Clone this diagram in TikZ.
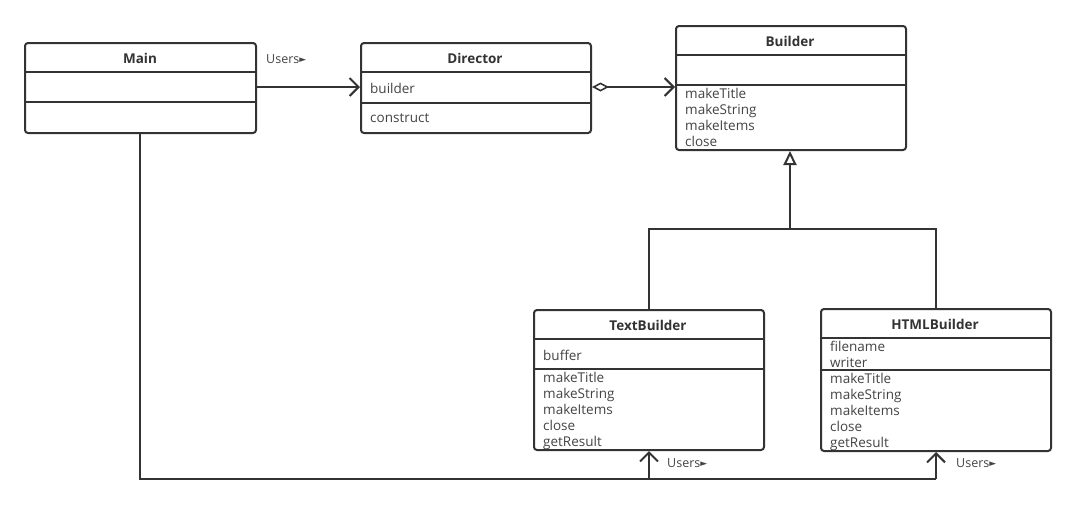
\documentclass[tikz,border=0pt]{standalone}
\usepackage{fontspec}
\setmainfont{Open Sans}
\newfontfamily\symfont{DejaVu Sans}
\usetikzlibrary{arrows.meta}
\definecolor{ln}{HTML}{333333}
\definecolor{tx}{HTML}{444444}
\tikzset{
  cls/.style={draw=ln, line width=2pt, rounded corners=3pt, fill=white, inner sep=0pt, anchor=north west},
  ttl/.style={font=\fontsize{13.5}{15}\selectfont\bfseries, text=ln, inner sep=0pt},
  mem/.style={font=\fontsize{13.5}{16}\selectfont, text=tx, align=left, anchor=north west, inner sep=0pt},
  lab/.style={font=\fontsize{12.5}{14}\selectfont, text=tx, inner sep=0pt},
  conn/.style={draw=ln, line width=2pt},
  opena/.style={-{Straight Barb[length=9pt,width=18pt,line width=2pt]}},
  aggr/.style={{Diamond[open,length=17pt,width=9pt,line width=1.6pt]}-{Straight Barb[length=9pt,width=18pt,line width=2pt]}},
  inh/.style={-{Triangle[open,length=14pt,width=13pt,line width=2pt]}},
}
\newcommand{\usersmark}{Users{\symfont\fontsize{9}{10}\selectfont\raisebox{0.5pt}{►}}}
\begin{document}
\begin{tikzpicture}[x=1pt,y=-1pt]
\useasboundingbox (0,0) rectangle (1082,507);
% Main
\node[cls, minimum width=231pt, minimum height=90pt] (main) at (24,42) {};
\draw[conn] (24,72) -- (255,72);
\draw[conn] (24,102) -- (255,102);
\node[ttl] (mainT) at (140,58) {Main};
% Director
\node[cls, minimum width=230pt, minimum height=90pt] (dir) at (360,42) {};
\draw[conn] (360,72) -- (590,72);
\draw[conn] (360,103) -- (590,103);
\node[ttl] (dirT) at (475,58) {Director};
\node[mem, anchor=west] (dirA) at (370,88) {builder};
\node[mem, anchor=west] (dirM) at (370,118) {construct};
% Builder
\node[cls, minimum width=230pt, minimum height=124pt] (bld) at (675,25) {};
\draw[conn] (675,55) -- (905,55);
\draw[conn] (675,85) -- (905,85);
\node[ttl] (bldT) at (790,41) {Builder};
\node[mem] (bldM) at (685,88) {makeTitle\\makeString\\makeItems\\close};
% TextBuilder
\node[cls, minimum width=230pt, minimum height=140pt] (tb) at (533,309) {};
\draw[conn] (533,339) -- (763,339);
\draw[conn] (533,369) -- (763,369);
\node[ttl] (tbT) at (648,325) {TextBuilder};
\node[mem, anchor=west] (tbA) at (543,355) {buffer};
\node[mem] (tbM) at (543,372) {makeTitle\\makeString\\makeItems\\close\\getResult};
% HTMLBuilder
\node[cls, minimum width=230pt, minimum height=142pt] (hb) at (820,308) {};
\draw[conn] (820,338) -- (1050,338);
\draw[conn] (820,370) -- (1050,370);
\node[ttl] (hbT) at (935,324) {HTMLBuilder};
\node[mem] (hbA) at (830,341) {filename\\writer};
\node[mem] (hbM) at (830,373) {makeTitle\\makeString\\makeItems\\close\\getResult};
% connectors
\draw[conn, opena] (main.east |- 0,87) -- (dir.west |- 0,87);
\node[lab, anchor=west] (u1) at (266,59) {\usersmark};
\draw[conn, aggr] (dir.east |- 0,87) -- (bld.west |- 0,87);
\coordinate (jn) at (790,229);
\draw[conn, inh] (jn) -- (bld.south -| jn);
\draw[conn] (tb.north) |- (jn) -| (hb.north);
\coordinate (mc) at (140,479);
\draw[conn] (main.south -| mc) -- (mc) -- (tb.south |- mc) -- (hb.south |- mc);
\draw[conn, opena] (tb.south |- mc) -- (tb.south);
\draw[conn, opena] (hb.south |- mc) -- (hb.south);
\node[lab, anchor=west] (u2) at (667,463) {\usersmark};
\node[lab, anchor=west] (u3) at (956,463) {\usersmark};
\end{tikzpicture}
\end{document}
